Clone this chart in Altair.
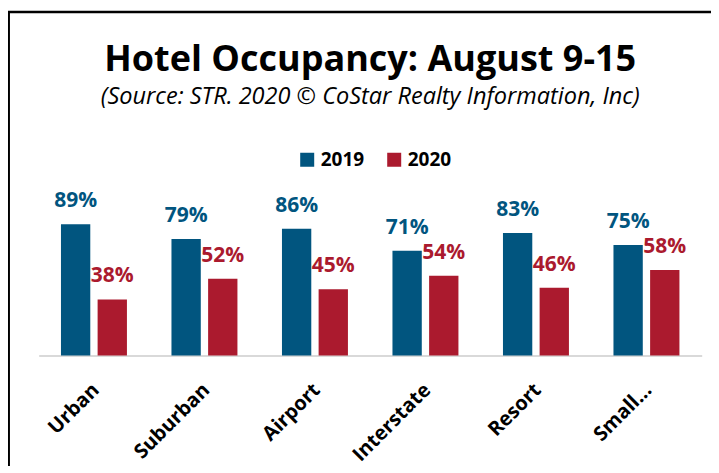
import altair as alt
import pandas as pd

categories = ["Urban", "Suburban", "Airport", "Interstate", "Resort", "Small..."]
occ_2019 = [89, 79, 86, 71, 83, 75]
occ_2020 = [38, 52, 45, 54, 46, 58]
years = ["2019", "2020"]
colors = ["#01557f", "#ab1a2e"]

rows = []
for c, a, b in zip(categories, occ_2019, occ_2020):
    rows.append({"cat": c, "year": "2019", "value": a})
    rows.append({"cat": c, "year": "2020", "value": b})
df = pd.DataFrame(rows)

W = 663
H = 147.5
FONT = "Open Sans"

x = alt.X("cat:N", sort=categories,
          scale=alt.Scale(paddingInner=0.403, paddingOuter=0.2015),
          axis=alt.Axis(title=None, labelAngle=-45, labelFont=FONT, labelFontWeight="bold",
                        labelFontSize=20, labelColor="black", ticks=False,
                        domainColor="#d9d9d9", domainWidth=2, labelPadding=24,
                        labelOffset=-5))
xo = alt.XOffset("year:N", sort=years, scale=alt.Scale(paddingInner=0.2, paddingOuter=0))
y = alt.Y("value:Q", scale=alt.Scale(domain=[0, 100], nice=False, zero=True), axis=None)
color = alt.Color("year:N", sort=years, scale=alt.Scale(domain=years, range=colors),
                  legend=alt.Legend(title=None, orient="none", legendX=259, legendY=-58,
                                    direction="horizontal", symbolType="square",
                                    symbolSize=196, symbolStrokeWidth=0, labelFont=FONT,
                                    labelFontWeight="bold", labelFontSize=19,
                                    labelColor="black", columnPadding=20, labelOffset=4))

base = alt.Chart(df)
bars = base.mark_bar().encode(x=x, xOffset=xo, y=y, color=color)
labels = base.mark_text(font=FONT, fontWeight="bold", fontSize=21, dy=-17,
                        baseline="alphabetic").transform_calculate(
    lab="datum.value + '%'"
).encode(x=x, xOffset=xo, y=y, text="lab:N",
         color=alt.Color("year:N", sort=years, scale=alt.Scale(domain=years, range=colors), legend=None))

border_top = alt.Chart(pd.DataFrame({"k": [0]})).mark_rule(color="black", strokeWidth=2.5).encode(
    x=alt.value(-31), x2=alt.value(720), y=alt.value(-196))
border_left = alt.Chart(pd.DataFrame({"k": [0]})).mark_rule(color="black", strokeWidth=2.5).encode(
    x=alt.value(-30), y=alt.value(-197), y2=alt.value(300))

chart = alt.layer(bars, labels, border_top, border_left).properties(
    width=W, height=H,
    title=alt.Title("Hotel Occupancy: August 9-15",
                    subtitle="(Source: STR. 2020 © CoStar Realty Information, Inc)",
                    font=FONT, fontSize=36, fontWeight="bold", color="black",
                    subtitleFont=FONT, subtitleFontSize=23.5, subtitleFontStyle="italic",
                    subtitleColor="black", anchor="middle", offset=-100, subtitlePadding=6),
    autosize=alt.AutoSizeParams(type="none"),
    padding={"left": 30.7, "top": 200, "right": 9.3, "bottom": 110},
).configure_view(stroke=None)

chart.save("out.html", embed_options={"renderer": "svg", "actions": False})
